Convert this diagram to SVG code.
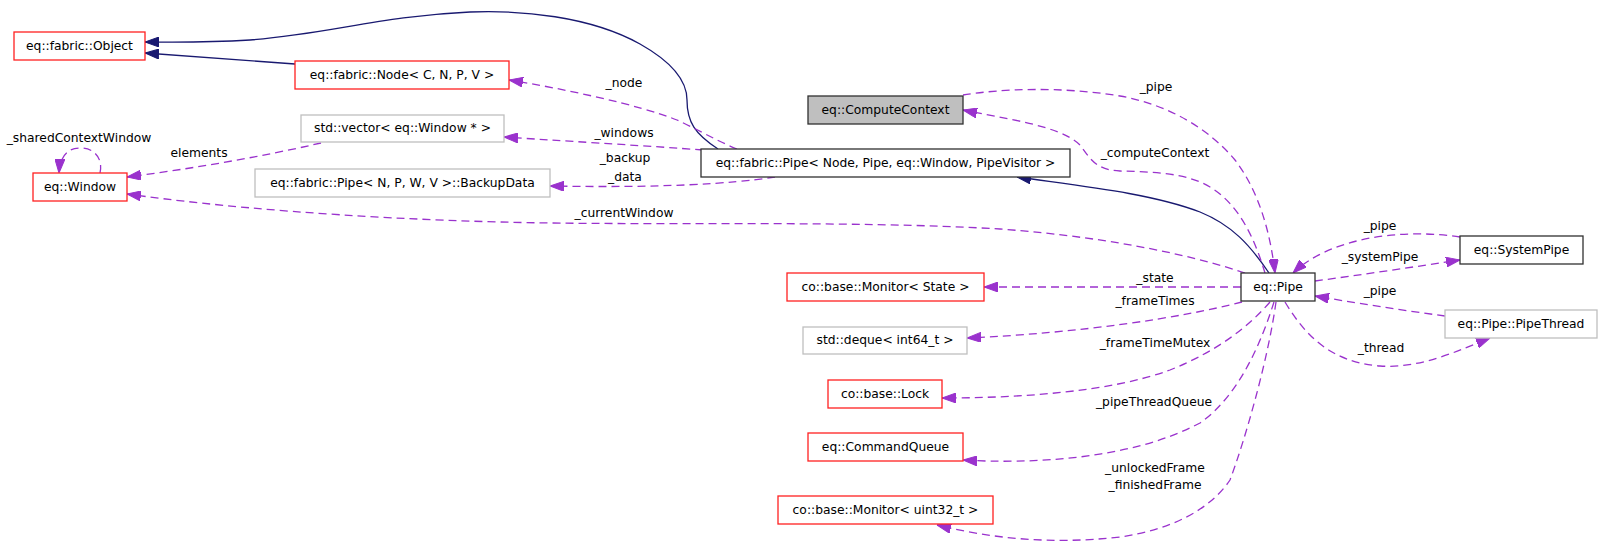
<svg xmlns="http://www.w3.org/2000/svg" width="1604" height="546" viewBox="0 0 1604 546">
<defs>
<style>
.n rect{fill:#ffffff;stroke-width:1.3}
.red rect{stroke:#ff2020}
.gry rect{stroke:#bfbfbf}
.blk rect{stroke:#303030}
.cur rect{fill:#bfbfbf}
text{font-family:"DejaVu Sans","Liberation Sans",sans-serif;font-size:12.3px;fill:#000;text-anchor:middle}
.inh{fill:none;stroke:#191970;stroke-width:1.3}
.use{fill:none;stroke:#9a32cd;stroke-width:1.3;stroke-dasharray:8,5}
</style>
<marker id="an" viewBox="0 0 14 10" refX="14" refY="5" markerWidth="14" markerHeight="10" markerUnits="userSpaceOnUse" orient="auto"><path d="M0,0 L14,5 L0,10 z" fill="#191970" stroke="#191970" stroke-width="1" stroke-dasharray="none"/></marker>
<marker id="ap" viewBox="0 0 14 10" refX="14" refY="5" markerWidth="14" markerHeight="10" markerUnits="userSpaceOnUse" orient="auto"><path d="M0,0 L14,5 L0,10 z" fill="#9a32cd" stroke="#9a32cd" stroke-width="1" stroke-dasharray="none"/></marker>
</defs>
<rect x="0" y="0" width="1604" height="546" fill="#ffffff"/>

<g id="connectors">
<path class="inh" d="M295,64 L145,53" marker-end="url(#an)"/>
<path class="inh" d="M718,149 C695,134 687,122 687,100 C687,80 672,62 640,44 C590,16 520,10 470,12 C380,16 330,34 250,40 C200,43 170,42 145,42" marker-end="url(#an)"/>
<path class="inh" d="M1269,273 C1250,245 1232,225 1200,212 C1150,193 1080,186 1017,177" marker-end="url(#an)"/>

<path class="use" d="M737,149 C715,140 695,128 677,120 C640,105 560,88 509,80" marker-end="url(#ap)"/>
<path class="use" d="M703,150 C650,146 580,142 504,137" marker-end="url(#ap)"/>
<path class="use" d="M775,177 C730,184 660,188 550,186" marker-end="url(#ap)"/>
<path class="use" d="M321,143 C260,157 190,169 127,177" marker-end="url(#ap)"/>
<path class="use" d="M100,173 C103,160 96,148 80,148 C68,148 60,156 59,173" marker-end="url(#ap)"/>
<path class="use" d="M1245,273 C1200,258 1120,238 1000,229 C850,220 650,226 500,222 C350,218 220,207 127,194" marker-end="url(#ap)"/>
<path class="use" d="M1265,273 C1255,240 1240,205 1210,187 C1185,172 1150,172 1120,171 C1095,170 1090,158 1080,145 C1060,125 1000,118 963,110" marker-end="url(#ap)"/>
<path class="use" d="M963,95 C1000,89 1060,86 1120,96 C1170,105 1210,130 1235,160 C1258,190 1270,230 1275,273" marker-end="url(#ap)"/>
<path class="use" d="M1241,287 L984,287" marker-end="url(#ap)"/>
<path class="use" d="M1242,302 C1180,318 1080,333 967,338" marker-end="url(#ap)"/>
<path class="use" d="M1270,302 C1250,325 1220,350 1170,370 C1110,392 1020,398 942,398" marker-end="url(#ap)"/>
<path class="use" d="M1274,302 C1262,340 1240,395 1200,423 C1130,460 1030,464 963,460" marker-end="url(#ap)"/>
<path class="use" d="M1276,302 C1268,360 1245,440 1230,480 C1210,510 1170,530 1120,537 C1050,545 990,538 937,525" marker-end="url(#ap)"/>
<path class="use" d="M1460,237 C1400,228 1330,238 1293,273" marker-end="url(#ap)"/>
<path class="use" d="M1315,281 C1360,275 1420,266 1460,260" marker-end="url(#ap)"/>
<path class="use" d="M1445,316 C1400,310 1350,302 1315,296" marker-end="url(#ap)"/>
<path class="use" d="M1285,302 C1305,335 1330,362 1380,366 C1420,369 1460,350 1490,338" marker-end="url(#ap)"/>

<text x="79" y="142">_sharedContextWindow</text>
<text x="199" y="157">elements</text>
<text x="624" y="87">_node</text>
<text x="624" y="137">_windows</text>
<text x="625" y="162">_backup</text>
<text x="625" y="181">_data</text>
<text x="624" y="217">_currentWindow</text>
<text x="1156" y="91">_pipe</text>
<text x="1155" y="157">_computeContext</text>
<text x="1380" y="230">_pipe</text>
<text x="1380" y="261">_systemPipe</text>
<text x="1380" y="295">_pipe</text>
<text x="1381" y="352">_thread</text>
<text x="1155" y="282">_state</text>
<text x="1155" y="305">_frameTimes</text>
<text x="1155" y="347">_frameTimeMutex</text>
<text x="1154" y="406">_pipeThreadQueue</text>
<text x="1155" y="472">_unlockedFrame</text>
<text x="1155" y="489">_finishedFrame</text>
</g>

<g id="n_object" class="n red"><rect x="14" y="32" width="131" height="28"/><text x="79.5" y="49.5">eq::fabric::Object</text></g>
<g id="n_fnode" class="n red"><rect x="295" y="61" width="214" height="28"/><text x="402" y="78.5">eq::fabric::Node&lt; C, N, P, V &gt;</text></g>
<g id="n_vector" class="n gry"><rect x="301" y="115" width="203" height="27"/><text x="402.5" y="132">std::vector&lt; eq::Window * &gt;</text></g>
<g id="n_backup" class="n gry"><rect x="255" y="169" width="295" height="28"/><text x="402.5" y="186.5">eq::fabric::Pipe&lt; N, P, W, V &gt;::BackupData</text></g>
<g id="n_window" class="n red"><rect x="33" y="173" width="94" height="28"/><text x="80" y="190.5">eq::Window</text></g>
<g id="n_fpipe" class="n blk"><rect x="701" y="149" width="369" height="28"/><text x="885.5" y="166.5">eq::fabric::Pipe&lt; Node, Pipe, eq::Window, PipeVisitor &gt;</text></g>
<g id="n_compute" class="n blk cur"><rect x="808" y="96" width="155" height="28"/><text x="885.5" y="113.5">eq::ComputeContext</text></g>
<g id="n_pipe" class="n blk"><rect x="1241" y="273" width="74" height="28"/><text x="1278" y="290.5">eq::Pipe</text></g>
<g id="n_syspipe" class="n blk"><rect x="1460" y="236" width="123" height="28"/><text x="1521.5" y="253.5">eq::SystemPipe</text></g>
<g id="n_pthread" class="n gry"><rect x="1445" y="310" width="152" height="28"/><text x="1521" y="327.5">eq::Pipe::PipeThread</text></g>
<g id="n_monstate" class="n red"><rect x="787" y="273" width="197" height="28"/><text x="885.5" y="290.5">co::base::Monitor&lt; State &gt;</text></g>
<g id="n_deque" class="n gry"><rect x="803" y="327" width="164" height="27"/><text x="885" y="344">std::deque&lt; int64_t &gt;</text></g>
<g id="n_lock" class="n red"><rect x="828" y="380" width="114" height="28"/><text x="885" y="397.5">co::base::Lock</text></g>
<g id="n_cq" class="n red"><rect x="808" y="433" width="155" height="28"/><text x="885.5" y="450.5">eq::CommandQueue</text></g>
<g id="n_monu32" class="n red"><rect x="778" y="496" width="215" height="28"/><text x="885.5" y="513.5">co::base::Monitor&lt; uint32_t &gt;</text></g>
</svg>
